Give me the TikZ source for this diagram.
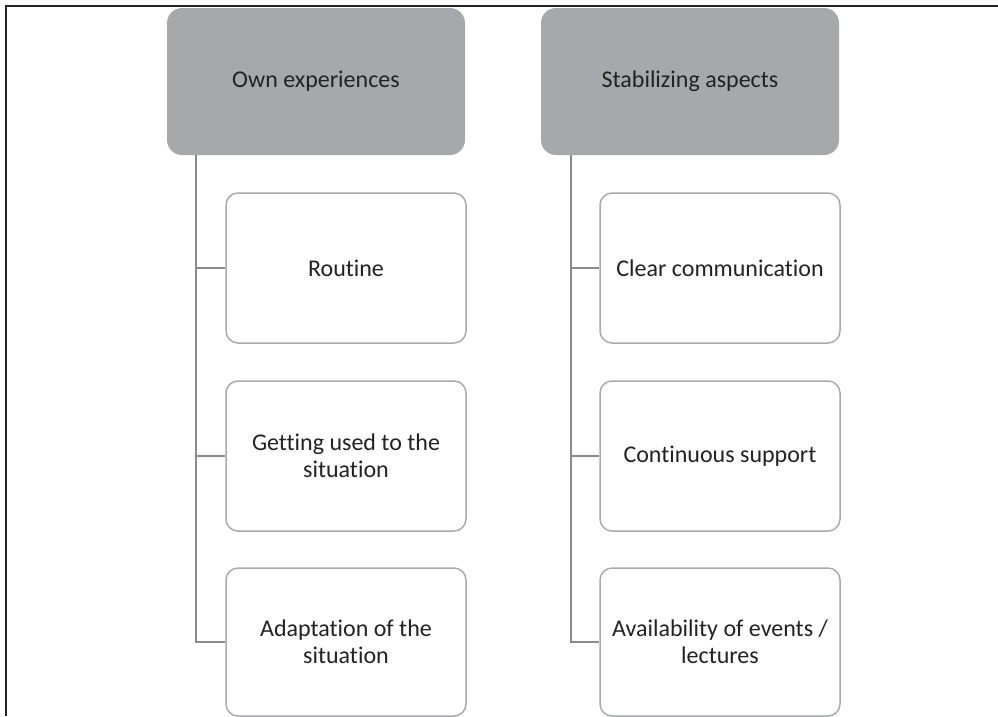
\documentclass[tikz,border=0pt]{standalone}
\usepackage{fontspec}
\setmainfont{Carlito}[Ligatures=NoCommon]
\usepackage{tikz}
\usetikzlibrary{calc,backgrounds}
\definecolor{headgray}{HTML}{A7A8AB}
\definecolor{edgegray}{HTML}{A9AAAD}
\definecolor{stemgray}{HTML}{898A8D}
\definecolor{textgray}{HTML}{222222}
\newcommand{\boxline}{1.5pt}
\newcommand{\stemline}{2.2pt}

\begin{document}
\begin{tikzpicture}[x=1pt,y=-1pt,
  head/.style={fill=headgray,rounded corners=15pt,minimum width=298pt,minimum height=147pt,
    text=textgray,font=\fontsize{24}{27}\selectfont},
  leaf/.style={draw=edgegray,line width=\boxline,fill=white,rounded corners=12pt,
    minimum width=240pt,minimum height=150pt,align=center,
    text=textgray,font=\fontsize{24}{27}\selectfont},
  stem/.style={draw=stemgray,line width=\stemline}]
\useasboundingbox (0,0) rectangle (998,716);
% frame
\draw[line width=1.5pt,textgray] (6,716) -- (6,6) -- (998,6);
% headers
\node[head] (own) at (316,81.5) {Own experiences};
\node[head] (stab) at (690,81.5) {Stabilizing aspects};
% left column
\node[leaf] (routine) at (346,268) {Routine};
\node[leaf] (used) at (346,456) {Getting used to the\\situation};
\node[leaf,minimum height=148pt] (adapt) at (346,642) {Adaptation of the\\situation};
% right column
\node[leaf] (clear) at (720,268) {Clear communication};
\node[leaf] (cont) at (720,456) {Continuous support};
\node[leaf,minimum height=148pt] (avail) at (720,642) {Availability of events /\\lectures};
% stems
\coordinate (ownstem) at (196,155);
\coordinate (stabstem) at (571,155);
\begin{scope}[on background layer]
\draw[stem] (ownstem) |- (routine.west);
\draw[stem] (ownstem) |- (used.west);
\draw[stem] (ownstem) |- (adapt.west);
\draw[stem] (stabstem) |- (clear.west);
\draw[stem] (stabstem) |- (cont.west);
\draw[stem] (stabstem) |- (avail.west);
\end{scope}
\end{tikzpicture}
\end{document}
